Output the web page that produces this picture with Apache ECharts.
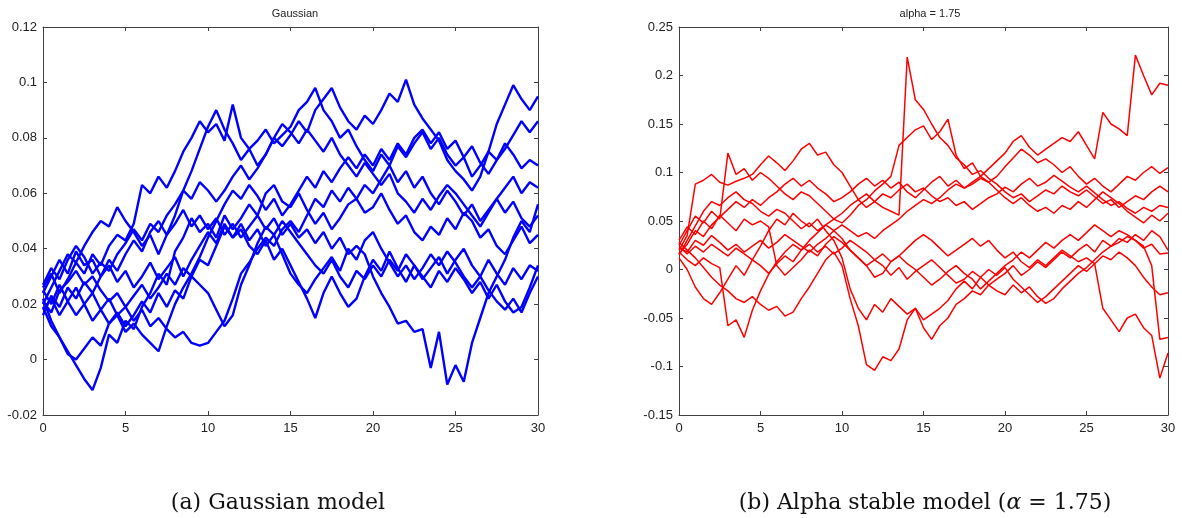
<!DOCTYPE html>
<html>
<head>
<meta charset="utf-8">
<script src="https://cdn.jsdelivr.net/npm/echarts@6/dist/echarts.min.js"></script>
<style>
  html, body { margin: 0; padding: 0; background: #fff; }
  #chart { width: 1182px; height: 518px; }
</style>
</head>
<body>
<div id="chart"></div>
<script>
// time grid shared by every path (0 .. 30, step 0.5)
const tGrid = [
  0, 0.5, 1, 1.5, 2, 2.5, 3, 3.5, 4, 4.5,
  5, 5.5, 6, 6.5, 7, 7.5, 8, 8.5, 9, 9.5,
  10, 10.5, 11, 11.5, 12, 12.5, 13, 13.5, 14, 14.5,
  15, 15.5, 16, 16.5, 17, 17.5, 18, 18.5, 19, 19.5,
  20, 20.5, 21, 21.5, 22, 22.5, 23, 23.5, 24, 24.5,
  25, 25.5, 26, 26.5, 27, 27.5, 28, 28.5, 29, 29.5,
  30
];

const gaussTicks = [-0.02, 0, 0.02, 0.04, 0.06, 0.08, 0.1, 0.12];
const alphaTicks = [-0.15, -0.1, -0.05, 0, 0.05, 0.1, 0.15, 0.2, 0.25];

// Gaussian paths
const gauss1 = [
  0.022, 0.014, 0.008, 0.003, -0.002, -0.007, -0.011, -0.003, 0.009, 0.006,
  0.014, 0.011, 0.019, 0.024, 0.031, 0.027, 0.039, 0.044, 0.051, 0.046,
  0.049, 0.044, 0.052, 0.047, 0.051, 0.056, 0.052, 0.060, 0.063, 0.057,
  0.055, 0.060, 0.054, 0.049, 0.053, 0.047, 0.051, 0.056, 0.058, 0.053,
  0.055, 0.060, 0.054, 0.049, 0.052, 0.046, 0.043, 0.048, 0.045, 0.051,
  0.047, 0.053, 0.050, 0.044, 0.047, 0.041, 0.038, 0.043, 0.048, 0.042,
  0.045
];
const gauss2 = [
  0.026, 0.031, 0.024, 0.029, 0.035, 0.031, 0.038, 0.034, 0.041, 0.045,
  0.043, 0.049, 0.063, 0.060, 0.066, 0.062, 0.068, 0.075, 0.080, 0.086,
  0.082, 0.085, 0.079, 0.092, 0.080, 0.076, 0.079, 0.083, 0.078, 0.081,
  0.084, 0.090, 0.093, 0.098, 0.090, 0.086, 0.080, 0.083, 0.077, 0.072,
  0.068, 0.074, 0.070, 0.077, 0.073, 0.078, 0.082, 0.076, 0.080, 0.074,
  0.070, 0.073, 0.066, 0.070, 0.075, 0.072, 0.078, 0.074, 0.069, 0.072,
  0.070
];
const gauss3 = [
  0.020, 0.026, 0.032, 0.038, 0.035, 0.041, 0.046, 0.050, 0.048, 0.055,
  0.050, 0.046, 0.041, 0.045, 0.038, 0.045, 0.052, 0.061, 0.068, 0.076,
  0.084, 0.090, 0.083, 0.078, 0.072, 0.076, 0.070, 0.074, 0.080, 0.077,
  0.081, 0.086, 0.082, 0.090, 0.094, 0.098, 0.091, 0.086, 0.083, 0.088,
  0.085, 0.090, 0.096, 0.093, 0.101, 0.092, 0.087, 0.083, 0.079, 0.072,
  0.068, 0.065, 0.061, 0.066, 0.075, 0.085, 0.092, 0.099, 0.094, 0.090,
  0.095
];
const gauss4 = [
  0.018, 0.022, 0.016, 0.021, 0.026, 0.020, 0.024, 0.018, 0.022, 0.016,
  0.019, 0.014, 0.018, 0.012, 0.015, 0.011, 0.008, 0.010, 0.006, 0.005,
  0.006, 0.010, 0.014, 0.022, 0.031, 0.035, 0.040, 0.044, 0.041, 0.047,
  0.050, 0.046, 0.052, 0.058, 0.055, 0.061, 0.057, 0.062, 0.058, 0.063,
  0.060, 0.065, 0.070, 0.064, 0.068, 0.062, 0.066, 0.060, 0.056, 0.061,
  0.057, 0.052, 0.056, 0.050, 0.054, 0.058, 0.053, 0.057, 0.051, 0.048,
  0.052
];
const gauss5 = [
  0.019, 0.012, 0.008, 0.002, 0.000, 0.004, 0.008, 0.005, 0.013, 0.017,
  0.012, 0.016, 0.021, 0.017, 0.024, 0.019, 0.025, 0.022, 0.030, 0.027,
  0.024, 0.018, 0.012, 0.016, 0.027, 0.034, 0.042, 0.048, 0.045, 0.050,
  0.046, 0.042, 0.038, 0.034, 0.031, 0.036, 0.030, 0.026, 0.032, 0.029,
  0.034, 0.030, 0.036, 0.032, 0.038, 0.034, 0.029, 0.033, 0.037, 0.031,
  0.036, 0.040, 0.034, 0.030, 0.036, 0.031, 0.027, 0.033, 0.029, 0.034,
  0.032
];
const gauss6 = [
  0.024, 0.030, 0.036, 0.031, 0.039, 0.034, 0.036, 0.030, 0.034, 0.028,
  0.032, 0.026, 0.030, 0.035, 0.029, 0.033, 0.037, 0.030, 0.036, 0.041,
  0.046, 0.042, 0.049, 0.044, 0.047, 0.041, 0.038, 0.043, 0.036, 0.040,
  0.034, 0.028, 0.022, 0.015, 0.024, 0.030, 0.024, 0.019, 0.022, 0.030,
  0.036, 0.032, 0.039, 0.033, 0.028, 0.034, 0.030, 0.026, 0.032, 0.028,
  0.033, 0.029, 0.024, 0.028, 0.022, 0.027, 0.021, 0.017, 0.019, 0.026,
  0.034
];
const gauss7 = [
  0.016, 0.023, 0.019, 0.026, 0.022, 0.028, 0.024, 0.030, 0.036, 0.032,
  0.038, 0.043, 0.039, 0.046, 0.050, 0.045, 0.049, 0.054, 0.048, 0.052,
  0.047, 0.051, 0.045, 0.049, 0.044, 0.048, 0.052, 0.047, 0.051, 0.045,
  0.049, 0.044, 0.047, 0.042, 0.046, 0.040, 0.044, 0.038, 0.041, 0.038,
  0.030, 0.024, 0.019, 0.013, 0.014, 0.010, 0.011, -0.003, 0.010, -0.009,
  -0.002, -0.008, 0.006, 0.015, 0.024, 0.030, 0.036, 0.044, 0.050, 0.046,
  0.056
];
const gauss8 = [
  0.025, 0.020, 0.027, 0.021, 0.016, 0.020, 0.014, 0.018, 0.013, 0.016,
  0.010, 0.013, 0.009, 0.006, 0.003, 0.012, 0.020, 0.026, 0.031, 0.037,
  0.044, 0.050, 0.056, 0.061, 0.058, 0.063, 0.059, 0.054, 0.058, 0.052,
  0.056, 0.061, 0.066, 0.062, 0.068, 0.064, 0.069, 0.073, 0.069, 0.074,
  0.070, 0.076, 0.072, 0.078, 0.074, 0.080, 0.083, 0.078, 0.082, 0.076,
  0.079, 0.073, 0.077, 0.071, 0.067, 0.072, 0.076, 0.081, 0.086, 0.082,
  0.086
];
const gauss9 = [
  0.021, 0.017, 0.025, 0.028, 0.032, 0.027, 0.030, 0.025, 0.021, 0.024,
  0.019, 0.023, 0.027, 0.022, 0.026, 0.031, 0.027, 0.033, 0.030, 0.036,
  0.034, 0.041, 0.048, 0.044, 0.049, 0.043, 0.047, 0.041, 0.045, 0.038,
  0.031, 0.027, 0.024, 0.029, 0.033, 0.037, 0.032, 0.040, 0.036, 0.043,
  0.046, 0.040, 0.035, 0.030, 0.034, 0.029, 0.033, 0.038, 0.034, 0.039,
  0.035, 0.030, 0.026, 0.030, 0.025, 0.021, 0.018, 0.022, 0.017, 0.024,
  0.030
];
const gauss10 = [
  0.027, 0.033, 0.029, 0.036, 0.041, 0.037, 0.031, 0.035, 0.032, 0.038,
  0.042, 0.047, 0.043, 0.049, 0.046, 0.052, 0.056, 0.061, 0.058, 0.064,
  0.061, 0.057, 0.061, 0.066, 0.070, 0.065, 0.069, 0.074, 0.080, 0.085,
  0.082, 0.078, 0.083, 0.079, 0.075, 0.080, 0.074, 0.070, 0.066, 0.071,
  0.067, 0.063, 0.067, 0.060, 0.057, 0.053, 0.058, 0.054, 0.059, 0.063,
  0.060, 0.056, 0.052, 0.048, 0.053, 0.058, 0.062, 0.066, 0.060, 0.064,
  0.062
];

// alpha stable paths (alpha = 1.75)
const alpha1 = [
  0.020, 0.035, 0.088, 0.092, 0.098, 0.090, 0.087, 0.091, 0.094, 0.098,
  0.108, 0.117, 0.110, 0.102, 0.112, 0.124, 0.130, 0.118, 0.121, 0.108,
  0.100, 0.086, 0.072, 0.064, 0.070, 0.078, 0.074, 0.082, 0.088, 0.080,
  0.084, 0.076, 0.070, 0.074, 0.066, 0.070, 0.062, 0.068, 0.074, 0.078,
  0.085, 0.080, 0.088, 0.094, 0.086, 0.090, 0.097, 0.091, 0.085, 0.080,
  0.086, 0.079, 0.072, 0.066, 0.070, 0.063, 0.058, 0.064, 0.060, 0.066,
  0.064
];
const alpha2 = [
  0.025, 0.040, 0.055, 0.048, 0.060, 0.052, 0.120, 0.098, 0.104, 0.092,
  0.100, 0.094, 0.086, 0.078, 0.072, 0.080, 0.076, 0.068, 0.060, 0.052,
  0.048, 0.056, 0.066, 0.072, 0.081, 0.088, 0.096, 0.128, 0.136, 0.144,
  0.148, 0.134, 0.142, 0.155, 0.118, 0.104, 0.110, 0.096, 0.090, 0.096,
  0.106, 0.115, 0.124, 0.118, 0.110, 0.114, 0.108, 0.100, 0.106, 0.096,
  0.088, 0.094, 0.086, 0.080, 0.088, 0.096, 0.092, 0.100, 0.106, 0.099,
  0.105
];
const alpha3 = [
  0.015, 0.030, 0.045, 0.060, 0.070, 0.066, 0.074, 0.080, 0.072, 0.068,
  0.060, 0.055, 0.062, 0.058, 0.050, 0.042, 0.048, 0.040, 0.046, 0.052,
  0.058, 0.066, 0.072, 0.078, 0.070, 0.064, 0.060, 0.056, 0.219, 0.175,
  0.165, 0.150, 0.136, 0.128, 0.115, 0.108, 0.098, 0.102, 0.094, 0.088,
  0.080, 0.074, 0.078, 0.070, 0.076, 0.082, 0.078, 0.086, 0.080, 0.076,
  0.082, 0.075, 0.068, 0.072, 0.064, 0.070, 0.076, 0.072, 0.080, 0.086,
  0.080
];
const alpha4 = [
  0.022, 0.018, 0.030, 0.025, 0.035, 0.028, 0.020, 0.026, 0.018, 0.024,
  0.030, 0.022, 0.028, 0.036, 0.030, 0.024, 0.018, 0.026, 0.032, 0.040,
  0.046, 0.040, 0.034, 0.038, 0.032, 0.040, 0.046, 0.052, 0.060, 0.066,
  0.072, 0.068, 0.074, 0.082, 0.088, 0.084, 0.090, 0.096, 0.104, 0.112,
  0.120, 0.132, 0.138, 0.126, 0.118, 0.124, 0.130, 0.136, 0.132, 0.142,
  0.128, 0.114, 0.162, 0.150, 0.145, 0.138, 0.221, 0.200, 0.180, 0.192,
  0.190
];
const alpha5 = [
  0.018, 0.010, 0.004, 0.012, 0.006, 0.002, -0.058, -0.052, -0.070, -0.042,
  -0.022, -0.005, 0.008, 0.018, 0.026, 0.020, 0.030, 0.038, 0.046, 0.040,
  0.032, 0.020, 0.012, 0.004, -0.008, -0.004, 0.008, 0.014, 0.006, 0.000,
  -0.008, -0.016, -0.010, -0.002, 0.004, -0.004, -0.010, -0.020, -0.012, -0.004,
  0.004, 0.010, 0.018, 0.012, 0.020, 0.028, 0.022, 0.030, 0.036, 0.030,
  0.038, 0.046, 0.040, 0.034, 0.040, 0.036, 0.030, 0.024, 0.004, -0.072,
  -0.070
];
const alpha6 = [
  0.012, 0.000, -0.018, -0.030, -0.036, -0.024, -0.010, 0.004, -0.006, 0.010,
  0.024, 0.040, 0.052, 0.046, 0.058, 0.050, 0.044, 0.052, 0.040, 0.030,
  0.012, -0.020, -0.040, -0.052, -0.036, -0.044, -0.030, -0.038, -0.046, -0.040,
  -0.052, -0.046, -0.040, -0.032, -0.020, -0.012, -0.020, -0.008, 0.000, -0.006,
  0.002, -0.010, -0.018, -0.026, -0.034, -0.028, -0.020, -0.012, -0.004, 0.004,
  -0.002, 0.006, 0.014, 0.010, 0.018, 0.012, 0.004, -0.008, -0.018, -0.026,
  -0.024
];
const alpha7 = [
  0.028, 0.020, 0.012, 0.002, -0.008, -0.016, -0.022, -0.030, -0.034, -0.028,
  -0.036, -0.042, -0.038, -0.048, -0.044, -0.030, -0.018, -0.004, 0.010, 0.018,
  0.004, -0.030, -0.058, -0.098, -0.104, -0.090, -0.094, -0.082, -0.052, -0.040,
  -0.060, -0.072, -0.058, -0.050, -0.036, -0.030, -0.022, -0.026, -0.016, -0.010,
  -0.004, 0.004, -0.006, 0.000, 0.008, 0.002, 0.010, 0.018, 0.012, 0.020,
  0.026, 0.018, 0.030, 0.024, 0.032, 0.028, 0.036, 0.030, 0.040, 0.034,
  0.020
];
const alpha8 = [
  0.030, 0.044, 0.036, 0.050, 0.042, 0.056, 0.048, 0.040, 0.052, 0.046,
  0.050, 0.044, 0.004, -0.006, 0.002, 0.010, 0.020, 0.014, 0.026, 0.034,
  0.028, 0.020, 0.012, 0.004, 0.010, 0.016, 0.008, 0.014, 0.022, 0.030,
  0.036, 0.030, 0.022, 0.014, 0.020, 0.026, 0.032, 0.024, 0.030, 0.020,
  0.012, 0.018, 0.008, 0.002, 0.010, 0.004, 0.012, 0.020, 0.014, 0.008,
  0.012, 0.006, -0.040, -0.052, -0.064, -0.050, -0.046, -0.060, -0.068, -0.112,
  -0.086
];
const alpha9 = [
  0.016, 0.026, 0.040, 0.034, 0.046, 0.054, 0.062, 0.070, 0.064, 0.072,
  0.066, 0.074, 0.080, 0.088, 0.094, 0.086, 0.092, 0.084, 0.078, 0.070,
  0.074, 0.080, 0.088, 0.094, 0.086, 0.092, 0.084, 0.090, 0.080, 0.074,
  0.082, 0.090, 0.096, 0.086, 0.092, 0.084, 0.088, 0.094, 0.090, 0.082,
  0.074, 0.068, 0.074, 0.066, 0.060, 0.064, 0.058, 0.066, 0.062, 0.070,
  0.064, 0.072, 0.080, 0.074, 0.068, 0.060, 0.054, 0.048, 0.056, 0.050,
  0.058
];
const alpha10 = [
  0.024, 0.016, 0.024, 0.018, 0.026, 0.020, 0.014, 0.022, 0.016, 0.010,
  0.004, -0.004, 0.006, 0.014, 0.008, 0.020, 0.026, 0.018, 0.024, 0.016,
  0.022, 0.030, 0.024, 0.018, 0.010, 0.004, -0.006, 0.002, -0.010, -0.002,
  0.004, 0.010, 0.002, -0.006, -0.014, -0.010, -0.002, -0.008, -0.016, -0.022,
  -0.026, -0.016, -0.024, -0.018, -0.028, -0.035, -0.030, -0.020, -0.012, -0.004,
  0.002, 0.010, 0.018, 0.024, 0.028, 0.034, 0.030, 0.022, 0.026, 0.016,
  0.017
];

const gaussPaths = [gauss1, gauss2, gauss3, gauss4, gauss5, gauss6, gauss7, gauss8, gauss9, gauss10];
const alphaPaths = [alpha1, alpha2, alpha3, alpha4, alpha5, alpha6, alpha7, alpha8, alpha9, alpha10];

const axisColor = '#404040';
const labelFont = { color: '#222', fontFamily: 'Liberation Sans, Arial, sans-serif', fontSize: 13 };

// x axis (bottom with labels, top as a mirror with ticks only)
function xAxisFor(grid, mirror) {
  return {
    type: 'value', gridIndex: grid, min: 0, max: 30, interval: 5,
    position: mirror ? 'top' : 'bottom',
    axisLine: { show: true, onZero: false, lineStyle: { color: axisColor, width: 1 } },
    axisTick: { show: true, inside: true, length: 4, lineStyle: { color: axisColor } },
    axisLabel: mirror ? { show: false } : Object.assign({ margin: 7 }, labelFont),
    splitLine: { show: false }
  };
}
function yAxisFor(grid, ticks, mirror) {
  return {
    type: 'value', gridIndex: grid,
    min: ticks[0], max: ticks[ticks.length - 1], interval: ticks[1] - ticks[0],
    position: mirror ? 'right' : 'left',
    axisLine: { show: true, onZero: false, lineStyle: { color: axisColor, width: 1 } },
    axisTick: { show: true, inside: true, length: 4, lineStyle: { color: axisColor } },
    axisLabel: mirror ? { show: false } : Object.assign({
      margin: 6,
      formatter: v => String(+v.toFixed(4))
    }, labelFont),
    splitLine: { show: false }
  };
}

let series = [];
gaussPaths.forEach(p => {
  series.push({
    type: 'line', xAxisIndex: 0, yAxisIndex: 0, symbol: 'none',
    lineStyle: { color: '#0000ff', width: 2.4 },
    data: p.map((v, i) => [tGrid[i], v])
  });
});
alphaPaths.forEach(p => {
  series.push({
    type: 'line', xAxisIndex: 1, yAxisIndex: 1, symbol: 'none',
    lineStyle: { color: '#ff0000', width: 1.5 },
    data: p.map((v, i) => [tGrid[i], v])
  });
});

const chart = echarts.init(document.getElementById('chart'), null, { renderer: 'canvas' });
chart.setOption({
  animation: false,
  backgroundColor: '#fff',
  title: [
    { text: 'Gaussian', left: 290, top: 3, textAlign: 'center',
      textStyle: { fontFamily: 'Liberation Sans, Arial, sans-serif', fontSize: 11, fontWeight: 'normal', color: '#222' } },
    { text: 'alpha = 1.75', left: 925, top: 3, textAlign: 'center',
      textStyle: { fontFamily: 'Liberation Sans, Arial, sans-serif', fontSize: 11, fontWeight: 'normal', color: '#222' } }
  ],
  grid: [
    { left: 43, right: 644, top: 27, bottom: 103 },
    { left: 679, right: 14, top: 27, bottom: 103 }
  ],
  xAxis: [xAxisFor(0, false), xAxisFor(1, false), xAxisFor(0, true), xAxisFor(1, true)],
  yAxis: [yAxisFor(0, gaussTicks, false), yAxisFor(1, alphaTicks, false),
          yAxisFor(0, gaussTicks, true), yAxisFor(1, alphaTicks, true)],
  graphic: [
    { type: 'text', x: 278, y: 492,
      style: { text: '(a) Gaussian model', font: '22px "DejaVu Serif", serif', fill: '#111', align: 'center' } },
    { type: 'text', x: 925, y: 492,
      style: { text: '(b) Alpha stable model ({i|α} = 1.75)', font: '22px "DejaVu Serif", serif', fill: '#111', align: 'center',
        rich: { i: { fontStyle: 'italic', fontFamily: 'DejaVu Serif, serif', fontSize: 22 } } } }
  ],
  series: series
});
</script>
</body>
</html>
